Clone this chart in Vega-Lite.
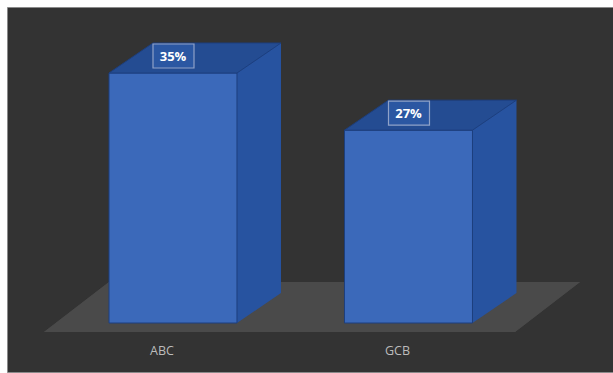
{
  "$schema": "https://vega.github.io/schema/vega-lite/v6.json",
  "width": 606,
  "height": 365,
  "autosize": {"type": "none"},
  "padding": {"left": 7, "top": 7, "right": 0, "bottom": 1},
  "background": "#ffffff",
  "config": {"view": {"fill": "#333333", "stroke": "#8a8a8a", "strokeWidth": 1}},
  "data": {"values": [
    {"category": "ABC", "value": 35, "label": "35%"},
    {"category": "GCB", "value": 27, "label": "27%"}
  ]},
  "encoding": {
    "x": {"field": "category", "type": "nominal", "sort": null,
      "scale": {"paddingInner": 0.4565, "paddingOuter": 0.5149, "align": 0.4206},
      "axis": null},
    "y": {"field": "value", "type": "quantitative",
      "scale": {"domain": [-6.86, 44.24], "nice": false, "zero": false},
      "axis": null}
  },
  "layer": [
    {
      "mark": {"type": "point", "filled": true, "opacity": 1, "size": 4,
        "shape": "M-129,9 L342,9 L407,-41 L-64,-41 Z", "color": "#4a4a4a"},
      "encoding": {"x": {"datum": "ABC"}, "y": {"datum": 0}}
    },
    {
      "mark": {"type": "bar", "width": 44, "xOffset": 86, "yOffset": -30, "y2Offset": -30, "color": "#2753a0"},
      "encoding": {"y2": {"datum": 0}}
    },
    {
      "mark": {"type": "point", "filled": true, "opacity": 1, "size": 4,
        "shape": "M64,-30 L64,0 L108,-30 Z", "color": "#2753a0"},
      "encoding": {"y": {"datum": 0}}
    },
    {
      "mark": {"type": "bar", "color": "#3b69ba", "stroke": "#1d3f7e", "strokeWidth": 1},
      "encoding": {"y2": {"datum": 0}}
    },
    {
      "mark": {"type": "point", "filled": true, "opacity": 1, "size": 4,
        "shape": "M-64,0 L64,0 L108,-30 L-20,-30 Z", "color": "#244c92", "stroke": "#1d3f7e", "strokeWidth": 1}
    },
    {
      "mark": {"type": "point", "filled": true, "opacity": 1, "size": 4,
        "shape": "M-20,-29 L21,-29 L21,-5 L-20,-5 Z", "color": "#2b57a2", "stroke": "#8fa2c8", "strokeWidth": 1.2}
    },
    {
      "mark": {"type": "text", "color": "#ffffff", "font": "Open Sans", "fontWeight": "bold", "fontSize": 13, "dy": -16, "baseline": "middle"},
      "encoding": {"text": {"field": "label"}}
    },
    {
      "mark": {"type": "text", "color": "#bcbcbc", "font": "Open Sans", "fontSize": 12.5, "dy": 28, "xOffset": -11, "baseline": "middle"},
      "encoding": {"y": {"datum": 0}, "text": {"field": "category"}}
    }
  ]
}
